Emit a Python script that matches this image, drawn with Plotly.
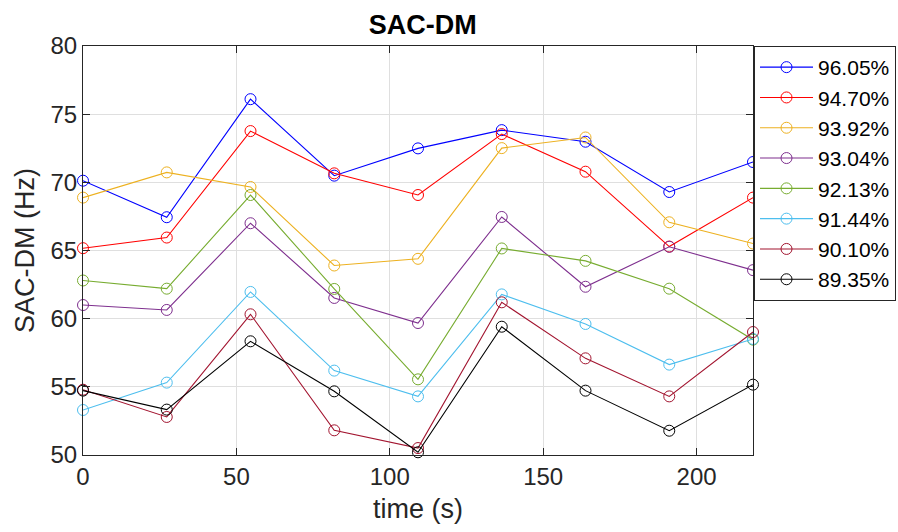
import plotly.graph_objects as go

time_s = [0, 27.3, 54.6, 81.9, 109.2, 136.5, 163.8, 191.1, 218.4]

series_names = ["96.05%", "94.70%", "93.92%", "93.04%", "92.13%", "91.44%", "90.10%", "89.35%"]

s_9605 = [70.12, 67.44, 76.10, 70.49, 72.49, 73.83, 72.98, 69.29, 71.49]
s_9470 = [65.17, 65.95, 73.76, 70.66, 69.07, 73.54, 70.78, 65.29, 68.88]
s_9392 = [68.88, 70.73, 69.66, 63.90, 64.39, 72.51, 73.29, 67.07, 65.51]
s_9304 = [61.00, 60.64, 67.00, 61.52, 59.68, 67.46, 62.34, 65.27, 63.56]
s_9213 = [62.80, 62.20, 69.07, 62.18, 55.55, 65.15, 64.24, 62.20, 58.46]
s_9144 = [53.30, 55.31, 61.96, 56.19, 54.30, 61.78, 59.61, 56.63, 58.51]
s_9010 = [54.79, 52.79, 60.32, 51.81, 50.51, 61.20, 57.09, 54.30, 59.02]
s_8935 = [54.72, 53.33, 58.34, 54.67, 50.20, 59.41, 54.72, 51.78, 55.16]

series_values = [s_9605, s_9470, s_9392, s_9304, s_9213, s_9144, s_9010, s_8935]
colors = ["#0000FF", "#FF0000", "#EDB120", "#7E2F8E", "#77AC30", "#4DBEEE", "#A2142F", "#000000"]

x_ticks = [0, 50, 100, 150, 200]
y_ticks = [50, 55, 60, 65, 70, 75, 80]

FONT = "Liberation Sans, Arial, Helvetica, sans-serif"
AX = "#262626"

fig = go.Figure()
for name, vals, c in zip(series_names, series_values, colors):
    fig.add_trace(go.Scatter(
        x=time_s, y=vals, name=name, mode="lines+markers",
        line=dict(color=c, width=1.1),
        marker=dict(symbol="circle-open", size=11, color=c, line=dict(width=1, color=c)),
        cliponaxis=False,
    ))

axis_common = dict(
    showline=True, linecolor=AX, linewidth=1, mirror="ticks",
    ticks="inside", ticklen=7, tickwidth=1, tickcolor=AX,
    showgrid=True, gridcolor="#dfdfdf", gridwidth=1, zeroline=False,
    tickfont=dict(family=FONT, size=24, color=AX),
)

fig.update_layout(
    width=898, height=532,
    margin=dict(l=83, r=145, t=46, b=77, autoexpand=False),
    paper_bgcolor="white", plot_bgcolor="white",
    title=dict(text="<b>SAC-DM</b>", x=0.507, xref="paper", y=1 - 25 / 532, yref="container",
               xanchor="center", yanchor="middle",
               font=dict(family=FONT, size=27, color="#000000")),
    xaxis=dict(range=[0, 218.4], tickvals=x_ticks,
               title=dict(text="time (s)", standoff=10, font=dict(family=FONT, size=27, color=AX)),
               **axis_common),
    yaxis=dict(range=[50, 80], tickvals=y_ticks,
               title=dict(text="SAC-DM (Hz)", standoff=8, font=dict(family=FONT, size=27, color=AX)),
               **axis_common),
    legend=dict(x=1.0015, xref="paper", xanchor="left", y=1, yref="paper", yanchor="top",
                bordercolor=AX, borderwidth=1, bgcolor="white",
                font=dict(family=FONT, size=21, color="#000000"),
                itemwidth=53, tracegroupgap=0),
    showlegend=True,
)

fig.write_html("out.html")
